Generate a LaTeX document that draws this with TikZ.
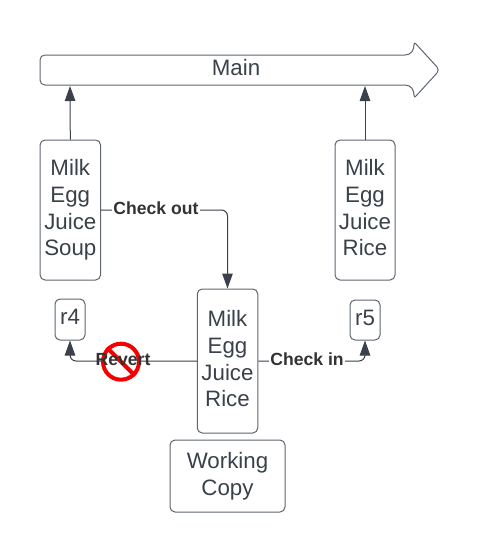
\documentclass[tikz,border=0pt]{standalone}
\usepackage{fontspec}
\setmainfont{Liberation Sans}
\usetikzlibrary{arrows.meta}
\definecolor{ink}{HTML}{3A414A}
\definecolor{edge}{HTML}{5E6570}
\definecolor{lbl}{HTML}{333333}
\definecolor{nored}{HTML}{F40000}
\newcommand\lnfix{\rule[-7.5pt]{0pt}{26.5pt}}
\newcommand\onefix{\rule[-6pt]{0pt}{22pt}}
\tikzset{
  card/.style={draw=edge,line width=1pt,rounded corners=5pt,fill=white,inner sep=0pt,text=ink,align=center,
    font=\fontsize{22.3}{26.7}\selectfont},
  flow/.style={draw=ink,line width=1pt,rounded corners=6pt,-{Triangle[length=15pt,width=10.5pt]}},
  tag/.style={inner sep=1pt,text=lbl,font=\fontsize{17.6}{20}\selectfont\bfseries},
}
\begin{document}
\begin{tikzpicture}[x=1pt,y=-1pt]
\useasboundingbox (0,0) rectangle (480,552);
% main arrow
\draw[draw=edge,line width=1pt,fill=white,line join=round]
  (45,55) -- (405,55) .. controls (411,55) and (414,50) .. (414,45)
  .. controls (414,43) and (415,42) .. (416,44) -- (437,67)
  .. controls (438.5,69) and (438.5,71) .. (437,73) -- (416,96)
  .. controls (415,98) and (414,97) .. (414,95)
  .. controls (414,90) and (411,85) .. (405,85) -- (45,85)
  .. controls (42,85) and (40,83) .. (40,80) -- (40,60)
  .. controls (40,57) and (42,55) .. (45,55) -- cycle;
\coordinate (mainL) at (70,86);
\coordinate (mainR) at (365,86);
\node[text=ink,font=\fontsize{22.3}{26}\selectfont,anchor=base] (main) at (236,75) {Main};
% boxes
\node[card,minimum width=60.5pt,minimum height=140pt] (a) at (70.3,210) {\lnfix Milk\\Egg\\Juice\\\lnfix Soup};
\node[card,minimum width=60pt,minimum height=140pt] (b) at (365,210) {\lnfix Milk\\Egg\\Juice\\\lnfix Rice};
\node[card,minimum width=60.5pt,minimum height=144pt] (c) at (227.5,361) {\lnfix Milk\\Egg\\Juice\\\lnfix Rice};
\node[card,minimum width=115pt,minimum height=72pt] (wc) at (227.5,476) {\lnfix Working\\\lnfix Copy};
\node[card,minimum width=30pt,minimum height=41pt] (r4) at (70,319.5) {\onefix r4};
\node[card,minimum width=30pt,minimum height=40pt] (r5) at (365,320) {\onefix r5};
% connectors
\draw[flow] (a.east |- 0,210) -- (227.5,210) -- (c.north);
\draw[flow] (a.north) -- (mainL);
\draw[flow] (b.north) -- (mainR);
\draw[flow] (c.west) -- (70,361) -- (r4.south);
\draw[flow] (c.east) -- (365,361) -- (r5.south);
% no-entry sign
\node[circle,draw=nored,line width=4pt,fill=white,minimum size=36pt,inner sep=0pt] (no) at (121,361.7) {};
\draw[draw=nored,line width=4pt] (no.north west) -- (no.south east);
% labels
\node[tag,fill=white] (co) at (156,208) {Check out};
\node[tag,fill=white] (ci) at (307,359) {Check in};
\node[tag] (rv) at (123,360) {Revert};
\end{tikzpicture}
\end{document}
